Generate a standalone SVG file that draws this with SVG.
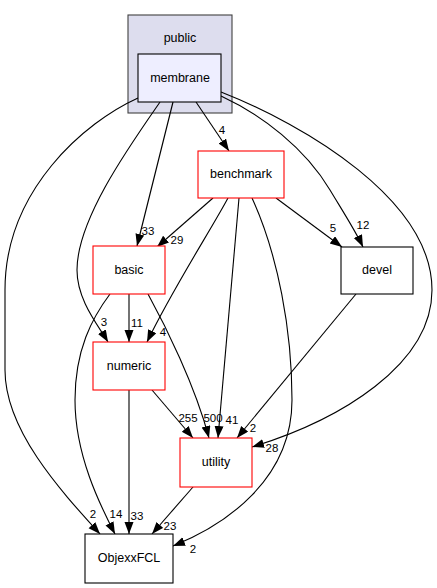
<svg xmlns="http://www.w3.org/2000/svg" width="437" height="588" viewBox="0 0 437 588">
<style>
.n{font-family:"Liberation Sans",Arial,sans-serif;font-size:12.5px;text-anchor:middle;fill:#000}
.l{font-family:"Liberation Sans",Arial,sans-serif;font-size:11.5px;text-anchor:middle;fill:#000}
.e{fill:none;stroke:#000;stroke-width:1.1;marker-end:url(#ah)}
.red{fill:#fff;stroke:#ff0000;stroke-width:1.1}
.blk{fill:#fff;stroke:#000;stroke-width:1.1}
</style>
<defs>
<marker id="ah" markerUnits="userSpaceOnUse" markerWidth="13" markerHeight="10" refX="12" refY="4.5" orient="auto">
<path d="M0,0 L12,4.5 L0,9 z" fill="#000"/>
</marker>
</defs>
<rect width="437" height="588" fill="#fff"/>
<g id="cluster_public">
<rect x="128" y="15" width="104" height="98" fill="#ddddee" stroke="#404040" stroke-width="1.1"/>
<text class="n" x="180" y="42">public</text>
</g>
<g id="connectors">
<path class="e" d="M138,98 C85,122 5,190 5,290 L5,370 C5,430 60,490 100,534"/>
<path class="e" d="M173,102 L137,246"/>
<path class="e" d="M160,102 C128,148 77,220 77,270 C77,300 98,325 108,342"/>
<path class="e" d="M196,102 L229,151"/>
<path class="e" d="M221,96 C262,115 305,148 330,190 C342,210 355,230 363,247"/>
<path class="e" d="M221,92 C305,125 432,200 432,290 C432,365 340,420 252,447"/>
<path class="e" d="M213,198 L157,247"/>
<path class="e" d="M228,198 C212,228 172,290 147,342"/>
<path class="e" d="M239,198 L218,438"/>
<path class="e" d="M252,198 C278,255 292,330 292,400 C292,480 225,525 173,546"/>
<path class="e" d="M276,198 L342,247"/>
<path class="e" d="M129,294 L129,342"/>
<path class="e" d="M148,294 C165,325 195,385 209,438"/>
<path class="e" d="M110,294 C92,318 75,350 75,400 C75,455 100,505 115,534"/>
<path class="e" d="M152,390 L193,438"/>
<path class="e" d="M129,390 L129,534"/>
<path class="e" d="M356,294 L237,438"/>
<path class="e" d="M193,487 L152,534"/>
<text class="l" x="93" y="518">2</text>
<text class="l" x="148" y="235">33</text>
<text class="l" x="104" y="326">3</text>
<text class="l" x="222" y="134">4</text>
<text class="l" x="363" y="229">12</text>
<text class="l" x="272" y="452">28</text>
<text class="l" x="177" y="244">29</text>
<text class="l" x="163" y="336">4</text>
<text class="l" x="232" y="424">41</text>
<text class="l" x="193" y="553">2</text>
<text class="l" x="333" y="232">5</text>
<text class="l" x="137" y="327">11</text>
<text class="l" x="213" y="422">500</text>
<text class="l" x="116" y="518">14</text>
<text class="l" x="188" y="422">255</text>
<text class="l" x="137" y="520">33</text>
<text class="l" x="253" y="432">2</text>
<text class="l" x="170" y="530">23</text>
</g>
<g id="node_membrane">
<rect x="138" y="54" width="83" height="48" fill="#eeeeff" stroke="#000" stroke-width="1.1"/>
<text class="n" x="180" y="82">membrane</text>
</g>
<g id="node_benchmark">
<rect class="red" x="198" y="151" width="86" height="47"/>
<text class="n" x="241" y="178">benchmark</text>
</g>
<g id="node_devel">
<rect class="blk" x="341" y="247" width="72" height="47"/>
<text class="n" x="377" y="274">devel</text>
</g>
<g id="node_basic">
<rect class="red" x="93" y="246" width="72" height="48"/>
<text class="n" x="129" y="274">basic</text>
</g>
<g id="node_numeric">
<rect class="red" x="93" y="342" width="72" height="48"/>
<text class="n" x="129" y="370">numeric</text>
</g>
<g id="node_utility">
<rect class="red" x="180" y="438" width="72" height="49"/>
<text class="n" x="216" y="466">utility</text>
</g>
<g id="node_ObjexxFCL">
<rect class="blk" x="85" y="534" width="88" height="49"/>
<text class="n" x="129" y="562">ObjexxFCL</text>
</g>
</svg>
